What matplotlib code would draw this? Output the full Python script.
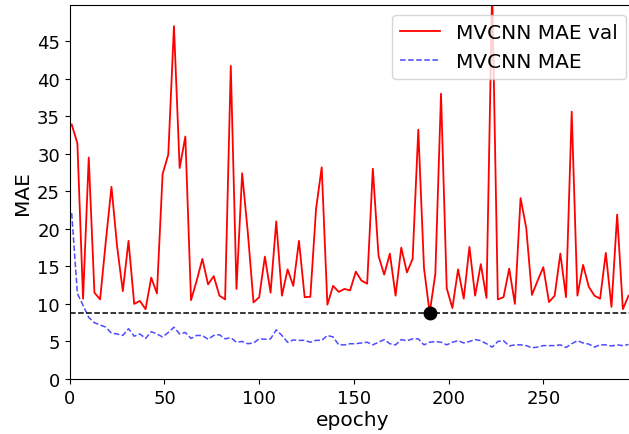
import numpy as np
import matplotlib
matplotlib.use("Agg")
import matplotlib.pyplot as plt

# validation is logged every 3 epochs
epochs = np.arange(1, 296, 3)

mae_val = [
    33.9, 31.4, 10.7, 29.5, 11.5, 10.6, 18.3, 25.6, 17.6, 11.7,
    18.4, 10.0, 10.4, 9.3, 13.5, 11.4, 27.3, 29.9, 47.0, 28.1,
    32.3, 10.5, 13.1, 16.0, 12.6, 13.7, 11.1, 10.6, 41.7, 12.0,
    27.4, 19.5, 10.2, 10.9, 16.3, 11.5, 21.0, 11.1, 14.6, 12.4,
    18.4, 10.9, 10.95, 22.6, 28.2, 9.9, 12.4, 11.6, 12.0, 11.8,
    14.3, 13.1, 12.7, 28.0, 16.4, 13.9, 16.7, 11.1, 17.5, 14.2,
    16.0, 33.2, 14.8, 8.8, 14.0, 38.0, 12.1, 9.45, 14.6, 10.7,
    17.6, 11.1, 15.3, 10.8, 52.0, 10.6, 10.9, 14.7, 10.0, 24.1,
    20.1, 11.2, 13.1, 14.9, 10.25, 11.1, 16.7, 10.9, 35.6, 11.1,
    15.2, 12.3, 11.1, 10.7, 16.8, 9.6, 21.9, 9.3, 11.1,
]

mae_train = [
    22.1, 11.4, 9.8, 8.2, 7.5, 7.2, 6.9, 6.1, 6.0, 5.8,
    6.7, 5.7, 6.0, 5.4, 6.3, 6.0, 5.6, 6.2, 6.9, 6.0,
    6.2, 5.4, 5.8, 5.8, 5.3, 5.8, 5.9, 5.35, 5.5, 4.9,
    5.0, 4.7, 4.8, 5.35, 5.3, 5.35, 6.55, 5.8, 4.9, 5.2,
    5.15, 5.15, 4.9, 5.15, 5.15, 5.8, 5.6, 4.55, 4.55, 4.7,
    4.7, 4.8, 4.9, 4.55, 4.9, 5.25, 4.7, 4.55, 5.25, 5.1,
    5.35, 5.35, 4.55, 4.9, 5.0, 4.9, 4.55, 4.9, 5.1, 4.8,
    5.0, 5.25, 5.1, 4.7, 4.25, 5.0, 5.1, 4.4, 4.55, 4.55,
    4.45, 4.15, 4.25, 4.45, 4.45, 4.45, 4.55, 4.2, 4.7, 5.1,
    4.8, 4.65, 4.25, 4.55, 4.55, 4.4, 4.55, 4.45, 4.6,
]

val = np.array(mae_val)
best = int(np.argmin(val))

fig = plt.figure(figsize=(6.29, 4.35), dpi=100)
# the axes run slightly past the right edge of the canvas
ax = fig.add_axes([69.8 / 629, 0.1264, 566.3 / 629, 0.8596])

ax.plot(epochs, val, color="red", lw=1.3, label="MVCNN MAE val")
ax.plot(epochs, mae_train, color="blue", alpha=0.7, ls="--", lw=1.1,
        label="MVCNN MAE")
ax.axhline(val[best], color="black", ls="--", lw=1.1)
ax.plot(epochs[best], val[best], "o", color="black", ms=9)

ax.set_xlim(0, 299)
ax.set_ylim(0, 49.8)
ax.set_yticks(np.arange(0, 50, 5))
ax.set_xticks(np.arange(0, 300, 50))
ax.tick_params(labelsize=13)
ax.set_xlabel("epochy", fontsize=14.5, labelpad=2)
ax.set_ylabel("MAE", fontsize=14.5)
ax.legend(loc="upper right", fontsize=14.5)

fig.savefig("out.png", dpi=100)
